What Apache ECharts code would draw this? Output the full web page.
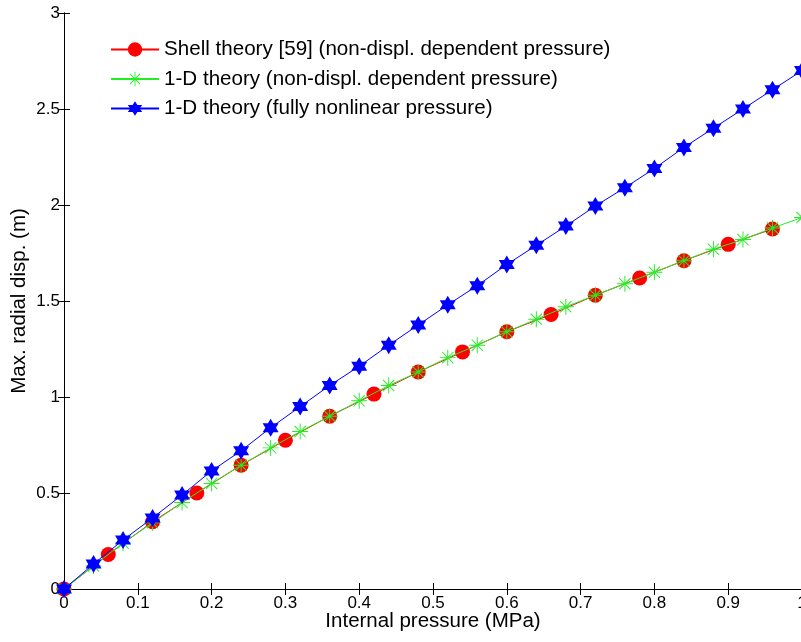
<!DOCTYPE html>
<html>
<head>
<meta charset="utf-8">
<script src="https://cdn.jsdelivr.net/npm/echarts@6/dist/echarts.min.js"></script>
<style>html,body{margin:0;padding:0;background:#fff;}#c{width:801px;height:642px;}</style>
</head>
<body>
<div id="c"></div>
<script>
const pressureCoarse = [0,0.06,0.12,0.18,0.24,0.30,0.36,0.42,0.48,0.54,0.60,0.66,0.72,0.78,0.84,0.90,0.96];
const shellDisp = [0,0.18,0.35,0.50,0.645,0.775,0.90,1.015,1.13,1.235,1.34,1.43,1.53,1.62,1.71,1.795,1.875];
const pressureFine = [0,0.04,0.08,0.12,0.16,0.20,0.24,0.28,0.32,0.36,0.40,0.44,0.48,0.52,0.56,0.60,0.64,0.68,0.72,0.76,0.80,0.84,0.88,0.92,0.96,1.00];
const linearDisp = [0,0.12,0.24,0.345,0.45,0.55,0.645,0.735,0.82,0.90,0.98,1.06,1.13,1.205,1.27,1.34,1.405,1.47,1.53,1.59,1.65,1.71,1.77,1.82,1.88,1.935];
const nonlinearDisp = [0,0.13,0.255,0.37,0.49,0.615,0.72,0.84,0.95,1.06,1.16,1.27,1.375,1.48,1.58,1.69,1.79,1.89,1.995,2.09,2.19,2.30,2.40,2.50,2.60,2.70];
const seriesNames = ['Shell theory [59] (non-displ. dependent pressure)','1-D theory (non-displ. dependent pressure)','1-D theory (fully nonlinear pressure)'];
const xTicks = {min:0, max:1, interval:0.1};
const yTicks = {min:0, max:3, interval:0.5};

const hexagram = 'path://M0,-100 L28.9,-50 L86.6,-50 L57.7,0 L86.6,50 L28.9,50 L0,100 L-28.9,50 L-86.6,50 L-57.7,0 L-86.6,-50 L-28.9,-50 Z';
const asterisk = 'path://M-6,-100 L6,-100 L6,100 L-6,100 Z M-100,-6 L100,-6 L100,6 L-100,6 Z M-66.5,-74.9 L74.9,66.5 L66.5,74.9 L-74.9,-66.5 Z M-74.9,66.5 L66.5,-74.9 L74.9,-66.5 L-66.5,74.9 Z';

const pair = (xs, ys) => xs.map((x,i)=>[x, ys[i]]);
const font = 'Liberation Sans, Arial, sans-serif';

const chart = echarts.init(document.getElementById('c'), null, {renderer:'canvas'});
const axisCommon = {
  axisLine:{show:true, lineStyle:{color:'#000', width:1}},
  axisTick:{show:true, inside:true, length:6, lineStyle:{color:'#000', width:1}},
  splitLine:{show:false}
};
chart.setOption({
  animation:false,
  backgroundColor:'#fff',
  grid:{left:64, right:-1, top:13, bottom:53, containLabel:false, outerBoundsMode:'none'},
  legend:{
    left:110, top:39, orient:'vertical', padding:0, itemWidth:48, itemHeight:18, itemGap:8.5,
    textStyle:{fontFamily:font, fontSize:20.6, lineHeight:20, color:'#000'},
    data:seriesNames
  },
  xAxis:[
    Object.assign({type:'value', position:'bottom', min:xTicks.min, max:xTicks.max, interval:xTicks.interval,
      name:'Internal pressure (MPa)', nameLocation:'middle', nameGap:22, nameMoveOverlap:false,
      nameTextStyle:{fontFamily:font, fontSize:20.5, color:'#000', verticalAlign:'top'},
      axisLabel:{fontFamily:font, fontSize:17, color:'#000', margin:6}}, axisCommon),
    Object.assign({type:'value', position:'top', min:xTicks.min, max:xTicks.max, interval:xTicks.interval,
      axisLabel:{show:false}}, axisCommon)
  ],
  yAxis:[
    Object.assign({type:'value', position:'left', min:yTicks.min, max:yTicks.max, interval:yTicks.interval,
      name:'Max. radial disp. (m)', nameLocation:'middle', nameGap:34, nameMoveOverlap:false,
      nameTextStyle:{fontFamily:font, fontSize:20.5, color:'#000'},
      axisLabel:{fontFamily:font, fontSize:17, color:'#000', margin:4}}, axisCommon),
    Object.assign({type:'value', position:'right', min:yTicks.min, max:yTicks.max, interval:yTicks.interval,
      axisLabel:{show:false}}, axisCommon)
  ],
  series:[
    {name:seriesNames[0], type:'line', data:pair(pressureCoarse, shellDisp), clip:false,
      symbol:'circle', symbolSize:15, lineStyle:{color:'#ff0000', width:1}, itemStyle:{color:'#ff0000'}, z:2},
    {name:seriesNames[1], type:'line', data:pair(pressureFine, linearDisp), clip:false,
      symbol:asterisk, symbolSize:16, lineStyle:{color:'#22ee22', width:1}, itemStyle:{color:'#22ee22'}, z:3},
    {name:seriesNames[2], type:'line', data:pair(pressureFine, nonlinearDisp), clip:false,
      symbol:hexagram, symbolSize:[16,18], lineStyle:{color:'#0000ff', width:1}, itemStyle:{color:'#0000ff'}, z:4}
  ]
});
</script>
</body>
</html>
